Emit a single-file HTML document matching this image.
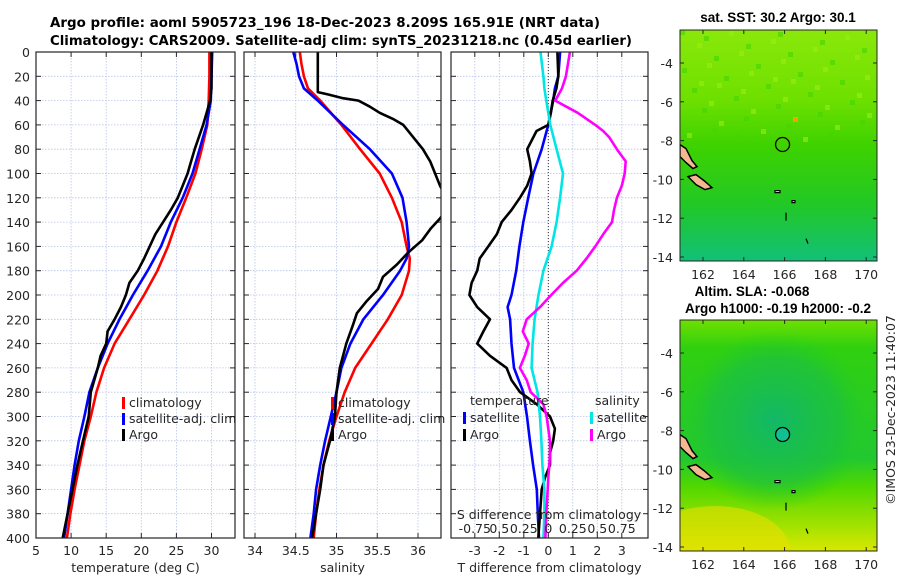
<!DOCTYPE html>
<html><head><meta charset="utf-8">
<style>
html,body{margin:0;padding:0;background:#fff;}
svg{display:block;font-family:"DejaVu Sans","Liberation Sans",sans-serif;}
</style></head>
<body>
<svg id="fig" width="900" height="580" viewBox="0 0 900 580" xmlns="http://www.w3.org/2000/svg">
<defs>
<linearGradient id="sstGrad" x1="0" y1="0" x2="0" y2="1">
<stop offset="0" stop-color="#8ae80a"/><stop offset="0.3" stop-color="#6ee000"/>
<stop offset="0.5" stop-color="#3ed200"/><stop offset="0.75" stop-color="#22c824"/>
<stop offset="1" stop-color="#12c078"/></linearGradient>
<radialGradient id="slaCenter" cx="0.5" cy="0.5" r="0.5">
<stop offset="0" stop-color="#12b868"/><stop offset="0.7" stop-color="#1cc040" stop-opacity="0.7"/><stop offset="1" stop-color="#22cc22" stop-opacity="0"/></radialGradient>
<linearGradient id="slaGrad" x1="0" y1="0" x2="0" y2="1">
<stop offset="0" stop-color="#6ee000"/><stop offset="0.12" stop-color="#30d010"/>
<stop offset="0.6" stop-color="#22c830"/><stop offset="0.72" stop-color="#50d800"/>
<stop offset="1" stop-color="#d8e800"/></linearGradient>
<clipPath id="mapclip1"><rect x="680" y="30" width="197" height="231"/></clipPath>
<clipPath id="mapclip2"><rect x="680" y="320" width="197" height="231"/></clipPath>
</defs>
<g id="plots"></g>
</svg>
<script>
// depth levels (dbar)
const depthT = [0,20,40,50,60,80,100,120,140,160,180,200,220,240,260,280,300,320,340,360,380,400];
const tempClim = [29.7,29.7,29.6,29.5,29.4,28.6,27.7,26.4,25.0,23.8,22.3,20.4,18.3,16.2,14.7,13.6,12.8,11.9,11.2,10.5,9.9,9.4];
const tempSat = [30.1,30.0,29.9,29.6,29.3,28.3,27.3,25.9,24.2,22.8,20.9,18.8,16.9,15.2,13.8,12.6,11.9,11.1,10.5,10.0,9.5,9.0];
const depthArgo = [0,20,30,40,50,60,70,80,90,100,110,120,130,140,150,160,170,180,190,200,210,220,230,240,250,260,280,300,320,340,360,380,400];
const tempArgo = [30.0,30.0,30.0,29.8,29.3,28.8,28.2,27.6,27.1,26.6,25.9,25.2,24.2,23.1,22.0,21.2,20.4,19.5,18.3,17.8,17.1,16.2,15.2,15.0,14.2,13.8,12.8,12.5,11.7,10.9,10.2,9.5,8.8];
const depthS = [0,10,20,30,40,60,80,100,120,140,160,170,180,200,220,240,260,280,300,320,340,360,380,400];
const salClim = [34.55,34.57,34.60,34.65,34.80,35.06,35.29,35.53,35.68,35.80,35.86,35.90,35.89,35.80,35.63,35.43,35.23,35.10,35.00,34.91,34.84,34.79,34.75,34.72];
const salSat = [34.47,34.51,34.54,34.60,34.77,35.08,35.41,35.68,35.81,35.86,35.89,35.86,35.78,35.57,35.33,35.17,35.06,35.00,34.93,34.86,34.80,34.75,34.72,34.68];
const depthSA = [0,20,33,35,38,40,45,50,55,60,70,80,90,100,110,120,130,137,145,155,165,175,185,195,205,215,225,240,260,280,300,320,340,360,380,400];
const salArgo = [34.77,34.77,34.77,34.90,35.08,35.27,35.41,35.53,35.69,35.82,35.94,36.06,36.15,36.21,36.27,36.35,36.35,36.27,36.16,36.05,35.88,35.74,35.57,35.51,35.37,35.25,35.20,35.12,35.04,35.00,34.98,34.92,34.84,34.80,34.75,34.70];
const depthD = [0,20,30,40,50,60,65,70,80,90,100,110,120,130,140,150,160,170,180,190,200,210,220,230,240,250,260,270,280,290,300,310,320,330,340,350,360,380,400];
const tDiffArgo = [0.37,0.41,0.33,0.18,0.1,0,-0.48,-0.61,-0.86,-0.75,-0.68,-0.86,-1.16,-1.5,-1.9,-2.1,-2.45,-2.8,-2.9,-3.13,-3.22,-2.9,-2.38,-2.65,-2.9,-2.38,-1.7,-1.5,-1.15,-0.47,0.07,0.27,0.2,0.07,0.07,-0.13,-0.27,-0.34,-0.41];
const sDiffArgo = [0.22,0.18,0.14,0.07,0.3,0.48,0.56,0.62,0.70,0.79,0.78,0.75,0.70,0.67,0.65,0.56,0.48,0.39,0.29,0.15,0.03,-0.085,-0.22,-0.26,-0.20,-0.24,-0.29,-0.22,-0.18,-0.05,-0.017,0,0.017,0.017,0.01,0,-0.006,-0.02,-0.03];
const depthDS = [0,20,30,40,50,60,80,100,120,140,160,180,200,210,220,240,260,280,300,320,340,360,380,400];
const tDiffSat = [0.48,0.41,0.27,0.20,0.10,0,-0.27,-0.61,-0.82,-1.02,-1.18,-1.31,-1.5,-1.66,-1.56,-1.5,-1.4,-1.02,-0.87,-0.75,-0.62,-0.47,-0.43,-0.38];
const sDiffSat = [-0.08,-0.05,-0.04,-0.02,0,0.02,0.085,0.15,0.12,0.085,0.034,-0.05,-0.10,-0.12,-0.14,-0.16,-0.17,-0.11,-0.085,-0.07,-0.06,-0.04,-0.04,-0.05];
const depthTicks = [0,20,40,60,80,100,120,140,160,180,200,220,240,260,280,300,320,340,360,380,400];
const tempTicks = [5,10,15,20,25,30];
const salTicks = [34,34.5,35,35.5,36];
const tdTicks = [-3,-2,-1,0,1,2,3];
const sdTicks = [-0.75,-0.5,-0.25,0,0.25,0.5,0.75];
const sdLabels = ['-0.75','0.5','0.25','0','0.25','0.5','0.75'];
const latTicks = [-4,-6,-8,-10,-12,-14];
const lonTicks = [162,164,166,168,170];

const NS="http://www.w3.org/2000/svg";
const root=document.getElementById('plots');
function mk(tag,attrs,parent){const e=document.createElementNS(NS,tag);for(const k in attrs)e.setAttribute(k,attrs[k]);(parent||root).appendChild(e);return e;}
function txt(s,x,y,attrs,parent){const e=mk('text',Object.assign({x:x,y:y,'font-size':12.5,fill:'#262626'},attrs||{}),parent);e.textContent=s;return e;}

const Y0=52,Y1=538;
const yD=d=>Y0+(d/400)*(Y1-Y0);
const xT=v=>36+(v-5)*7.02;
const xS=v=>255+(v-34)*81.5;
const xTD=v=>548.3+v*24.5;
const xSD=v=>548.3+v*98;

function panel(name,x0,x1,ticks,xf,xlabels,title){
  const g=mk('g',{});
  
  
  depthTicks.forEach(d=>{const l=mk('line',{x1:x0,x2:x1,y1:yD(d),y2:yD(d),stroke:'#b8c4e8','stroke-width':0.8,'stroke-dasharray':'1.5 1.5'},g);
    });
  ticks.forEach(t=>{const x=xf(t);const l=mk('line',{x1:x,x2:x,y1:Y0,y2:Y1,stroke:'#b8c4e8','stroke-width':0.8,'stroke-dasharray':'1.5 1.5'},g);
    });
  depthTicks.forEach(d=>{mk('line',{x1:x0,x2:x0+5,y1:yD(d),y2:yD(d),stroke:'#262626','stroke-width':1},g);mk('line',{x1:x1-5,x2:x1,y1:yD(d),y2:yD(d),stroke:'#262626','stroke-width':1},g);});
  ticks.forEach(t=>{const x=xf(t);mk('line',{x1:x,x2:x,y1:Y1,y2:Y1-5,stroke:'#262626','stroke-width':1},g);mk('line',{x1:x,x2:x,y1:Y0,y2:Y0+5,stroke:'#262626','stroke-width':1},g);});
  if(xlabels){ticks.forEach(t=>{const e=txt(String(t),xf(t),555,{'text-anchor':'middle'},g);});}
  if(title){const e=txt(title,(x0+x1)/2,572,{'text-anchor':'middle'},g);}
  return g;
}
function frame(x0,x1){const r=mk('rect',{x:x0,y:Y0,width:x1-x0,height:Y1-Y0,fill:'none',stroke:'#262626','stroke-width':1.2});}
function series(name,xs,ds,xf,color,clip){
  const pts=xs.map((v,i)=>xf(v).toFixed(1)+','+yD(ds[i]).toFixed(1)).join(' ');
  const p=mk('polyline',{points:pts,fill:'none',stroke:color,'stroke-width':2.6,'stroke-linejoin':'round','clip-path':'url(#'+clip+')'});
  
  
}
function clip(id,x0,x1){const defs=document.querySelector('defs');const c=mk('clipPath',{id:id},defs);mk('rect',{x:x0,y:Y0,width:x1-x0,height:Y1-Y0},c);}
function legendEntry(name,x,y,color,label,g){
  const e=mk('g',{},g);
  
  
  mk('rect',{x:x,y:y-10,width:3,height:12,fill:color},e);
  txt(label,x+7,y,{},e);
}

clip('c1',36,235);
panel('temperature-panel',36,235,tempTicks,xT,true,'temperature (deg C)');
depthTicks.forEach(d=>{const e=txt(String(d),30,yD(d)+5,{'text-anchor':'end'});});
series('temp-climatology-line',tempClim,depthT,xT,'#ff0000','c1');
series('temp-satellite-line',tempSat,depthT,xT,'#0000ff','c1');
series('temp-argo-line',tempArgo,depthArgo,xT,'#000000','c1');
frame(36,235);
const lg1=mk('g',{});
legendEntry('legend-climatology',122,407,'#ff0000','climatology',lg1);
legendEntry('legend-satellite-adj',122,423,'#0000ff','satellite-adj. clim',lg1);
legendEntry('legend-argo',122,439,'#000000','Argo',lg1);

clip('c2',244,441);
panel('salinity-panel',244,441,salTicks,xS,true,'salinity');
series('sal-climatology-line',salClim,depthS,xS,'#ff0000','c2');
series('sal-satellite-line',salSat,depthS,xS,'#0000ff','c2');
series('sal-argo-line',salArgo,depthSA,xS,'#000000','c2');
frame(244,441);
const lg2=mk('g',{});
legendEntry('legend-climatology',331,407,'#ff0000','climatology',lg2);
legendEntry('legend-satellite-adj',331,423,'#0000ff','satellite-adj. clim',lg2);
legendEntry('legend-argo',331,439,'#000000','Argo',lg2);

clip('c3',451,648);
panel('difference-panel',451,648,tdTicks,xTD,true,'T difference from climatology');
{const z=mk('line',{x1:xTD(0),x2:xTD(0),y1:Y0,y2:Y1,stroke:'#333','stroke-width':1,'stroke-dasharray':'1 2'});}
series('tdiff-satellite-line',tDiffSat,depthDS,xTD,'#0000ff','c3');
series('tdiff-argo-line',tDiffArgo,depthD,xTD,'#000000','c3');
series('sdiff-satellite-line',sDiffSat,depthDS,xSD,'#00e5e5','c3');
series('sdiff-argo-line',sDiffArgo,depthD,xSD,'#ff00ff','c3');
frame(451,648);
const lg3=mk('g',{});
txt('temperature',470,405,{},lg3);
txt('salinity',595,405,{},lg3);
legendEntry('legend-t-satellite',463,422,'#0000ff','satellite',lg3);
legendEntry('legend-t-argo',463,439,'#000000','Argo',lg3);
legendEntry('legend-s-satellite',590,422,'#00e5e5','satellite',lg3);
legendEntry('legend-s-argo',590,439,'#ff00ff','Argo',lg3);
{const e=txt('S difference from climatology',549,519,{'text-anchor':'middle'});}
sdTicks.forEach((t,i)=>{const e=txt(sdLabels[i],xSD(t),533,{'text-anchor':'middle'});});

{const t1=txt('Argo profile: aoml 5905723_196 18-Dec-2023 8.209S 165.91E (NRT data)',50,27,{'font-weight':'bold','font-size':13.5,fill:'#000',textLength:550,lengthAdjust:'spacingAndGlyphs'});
 const t2=txt('Climatology: CARS2009. Satellite-adj clim: synTS_20231218.nc (0.45d earlier)',50,45,{'font-weight':'bold','font-size':13.5,fill:'#000',textLength:582,lengthAdjust:'spacingAndGlyphs'});}

const lonX=l=>703+(l-162)*20.4;
function mapPanel(name,top,bot,latTop,latPx,fill,clipId,circleFill){
  const g=mk('g',{});
  
  
  const latY=la=>latTop+(-4-la)*latPx;
  const inner=mk('g',{'clip-path':'url(#'+clipId+')'},g);
  mk('rect',{x:680,y:top,width:197,height:bot-top,fill:fill},inner);
  if(name==='altimetry-map'){
    mk('ellipse',{cx:775,cy:(top+bot)/2-15,rx:95,ry:90,fill:'url(#slaCenter)'},inner);
    mk('ellipse',{cx:715,cy:bot,rx:75,ry:45,fill:'#e8e000',opacity:0.6},inner);
  } else {
    for(let i=0;i<60;i++){const cx=680+((i*37)%190),cy=top+((i*53)%110);mk('rect',{x:cx,y:cy,width:5,height:5,fill:i%2?'#9cec10':'#44d400',opacity:0.6},inner);}
    mk('rect',{x:794,y:top+88,width:4,height:4,fill:'#f0a000'},inner);
  }
  const y8=latY(-8);
  mk('path',{d:`M680 ${y8+4} L686 ${y8+8} L692 ${y8+20} L697 ${y8+26} L693 ${y8+28} L686 ${y8+22} L680 ${y8+16} Z`,fill:'#f4b890',stroke:'#000','stroke-width':1.5},inner);
  mk('path',{d:`M688 ${y8+36} L696 ${y8+34} L704 ${y8+40} L712 ${y8+47} L705 ${y8+49} L696 ${y8+44} Z`,fill:'#f4b890',stroke:'#000','stroke-width':1.5},inner);
  mk('path',{d:`M775 ${y8+50} l5 0 l0 2 l-5 0 Z M792 ${y8+60} l3 0 l0 2 l-3 0 Z M786 ${y8+72} l0 8 M806 ${y8+98} l2 5`,fill:'#fff',stroke:'#000','stroke-width':1.2},inner);
  const c=mk('circle',{cx:lonX(165.9),cy:latY(-8.2),r:7,fill:circleFill,stroke:'#000','stroke-width':1.3},g);
  
  
  mk('rect',{x:680,y:top,width:197,height:bot-top,fill:'none',stroke:'#262626','stroke-width':1},g);
  latTicks.forEach(la=>{const y=latY(la);mk('line',{x1:680,x2:684,y1:y,y2:y,stroke:'#262626'},g);mk('line',{x1:873,x2:877,y1:y,y2:y,stroke:'#262626'},g);
    const e=txt(String(la),673,y+5,{'text-anchor':'end'},g);});
  lonTicks.forEach(lo=>{const x=lonX(lo);mk('line',{x1:x,x2:x,y1:bot,y2:bot-4,stroke:'#262626'},g);mk('line',{x1:x,x2:x,y1:top,y2:top+4,stroke:'#262626'},g);
    const e=txt(String(lo),x,bot+18,{'text-anchor':'middle'},g);});
  return g;
}
mapPanel('sst-map',30,261,63,19.4,'url(#sstGrad)','mapclip1','none');
mapPanel('altimetry-map',320,551,353,19.4,'url(#slaGrad)','mapclip2','#10c090');
{const a=txt('sat. SST: 30.2 Argo: 30.1',778,22,{'text-anchor':'middle','font-weight':'bold',fill:'#000','font-family':'Liberation Sans',"font-size":13.5});
 const b=txt('Altim. SLA: -0.068',752,296,{'text-anchor':'middle','font-weight':'bold',fill:'#000','font-family':'Liberation Sans',"font-size":13.5});
 const c=txt('Argo h1000: -0.19 h2000: -0.2',778,313,{'text-anchor':'middle','font-weight':'bold',fill:'#000','font-family':'Liberation Sans',"font-size":13.5});
 const d=txt('©IMOS 23-Dec-2023 11:40:07',0,0,{'text-anchor':'middle',transform:'translate(895,410) rotate(-90)'});}
</script>
</body></html>
